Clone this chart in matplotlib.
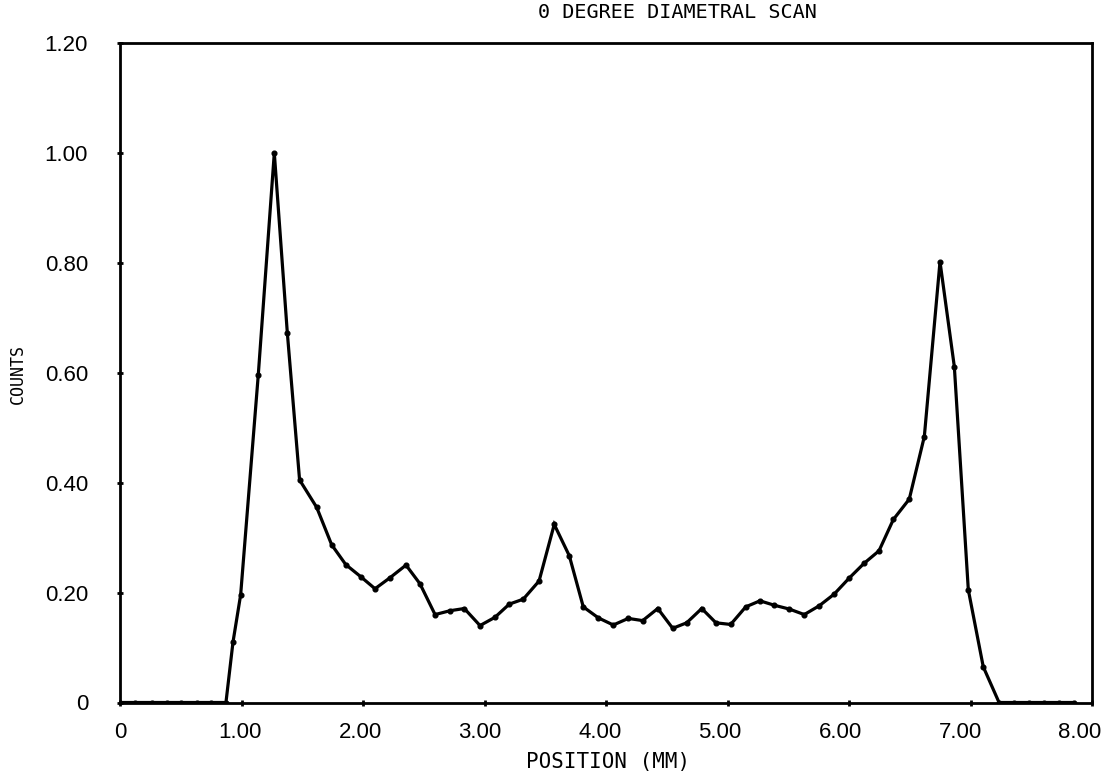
import matplotlib
matplotlib.use("Agg")
import matplotlib.pyplot as plt
from matplotlib.transforms import ScaledTranslation

# ----------- DATA -----------
position_mm = [
    0.0, 0.123, 0.261, 0.384, 0.502, 0.631, 0.749, 0.872, 0.93, 0.993,
    1.138, 1.27, 1.377, 1.478, 1.619, 1.742, 1.858, 1.981, 2.099, 2.222,
    2.354, 2.469, 2.593, 2.716, 2.834, 2.963, 3.086, 3.204, 3.319, 3.449,
    3.574, 3.698, 3.813, 3.937, 4.060, 4.183, 4.302, 4.426, 4.549, 4.664,
    4.788, 4.905, 5.026, 5.150, 5.267, 5.385, 5.509, 5.632, 5.755, 5.877,
    6.0, 6.123, 6.247, 6.365, 6.496, 6.620, 6.749, 6.867, 6.982, 7.105,
    7.235, 7.36, 7.484, 7.607, 7.731, 7.854,
]
counts = [
    0.0, 0.0, 0.0, 0.0, 0.0, 0.0, 0.0, 0.0, 0.11, 0.196,
    0.596, 1.0, 0.673, 0.405, 0.355, 0.287, 0.251, 0.229, 0.207, 0.227,
    0.250, 0.216, 0.160, 0.167, 0.171, 0.140, 0.155, 0.179, 0.188, 0.221,
    0.324, 0.267, 0.174, 0.154, 0.141, 0.153, 0.149, 0.171, 0.135, 0.145,
    0.171, 0.145, 0.142, 0.174, 0.185, 0.177, 0.170, 0.160, 0.176, 0.197,
    0.226, 0.253, 0.276, 0.333, 0.370, 0.484, 0.802, 0.611, 0.205, 0.065,
    0.0, 0.0, 0.0, 0.0, 0.0, 0.0,
]
x_ticks = [0, 1, 2, 3, 4, 5, 6, 7, 8]
x_tick_labels = ["0", "1.00", "2.00", "3.00", "4.00", "5.00", "6.00", "7.00", "8.00"]
y_ticks = [0, 0.2, 0.4, 0.6, 0.8, 1.0, 1.2]
y_tick_labels = ["0", "0.20", "0.40", "0.60", "0.80", "1.00", "1.20"]

# ----------- FONTS -----------
tick_font = ["Liberation Sans", "DejaVu Sans"]
label_font = ["DejaVu Sans Mono"]

# ----------- PLOT -----------
fig = plt.figure(figsize=(11.1, 7.82), dpi=100)
ax = fig.add_axes([120 / 1110, 1 - 702.5 / 782, (1092 - 120) / 1110, (702.5 - 43) / 782])

ax.plot(position_mm, counts, color="black", lw=2.3, marker="o", ms=3.4,
        markerfacecolor="black", markeredgecolor="black", solid_joinstyle="miter")

ax.set_xlim(0, 8)
ax.set_ylim(0, 1.2)
ax.set_xticks(x_ticks)
ax.set_xticklabels(x_tick_labels, family=tick_font, fontsize=16)
ax.set_yticks(y_ticks)
ax.set_yticklabels(y_tick_labels, family=tick_font, fontsize=16)
ax.tick_params(axis="both", direction="inout", length=4, width=2, color="black")
ax.tick_params(axis="x", pad=12)
ax.tick_params(axis="y", pad=21)

# the plotter's labels creep left a little as x grows
for i, lbl in enumerate(ax.get_xticklabels()):
    lbl.set_transform(lbl.get_transform() + ScaledTranslation(-1.5 * i / 100, 0, fig.dpi_scale_trans))

for sp in ax.spines.values():
    sp.set_linewidth(2.0)
    sp.set_color("black")

fig.text(677 / 1110, 1 - 13 / 782, "0 DEGREE DIAMETRAL SCAN", family=label_font,
         fontsize=14.5, ha="center", va="center")
fig.text(18 / 1110, 1 - 374 / 782, "COUNTS", family=label_font, fontsize=12,
         rotation=90, ha="center", va="center")
fig.text(608 / 1110, 1 - 762 / 782, "POSITION (MM)", family=label_font,
         fontsize=15, ha="center", va="center")

fig.savefig("out.png", dpi=100)
plt.close(fig)
